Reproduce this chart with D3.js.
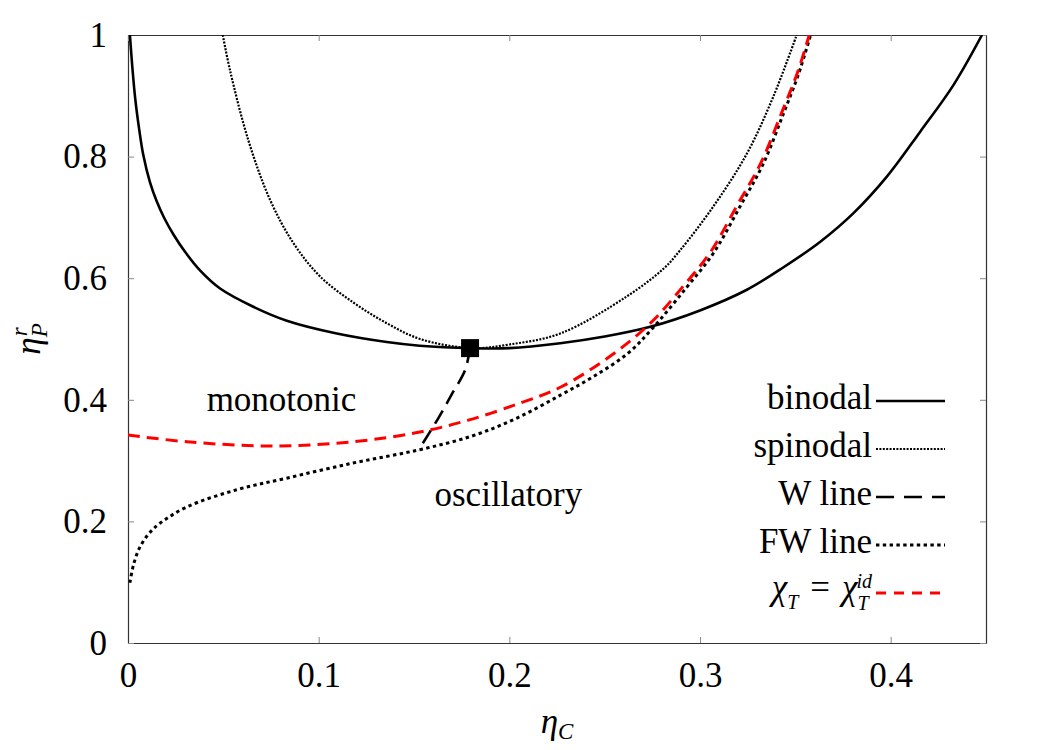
<!DOCTYPE html>
<html>
<head>
<meta charset="utf-8">
<script src="https://cdn.jsdelivr.net/npm/d3@7"></script>
<style>
  body { margin: 0; background: #fff; }
  text { font-family: "Liberation Serif", "DejaVu Serif", serif; fill: #000; }
</style>
</head>
<body>
<div id="chart"></div>
<script>

// curves: [eta_C, eta_P^r]
var binodal = [[0.0010,1.000],[0.0022,0.950],[0.0038,0.895],[0.0060,0.842],[0.0080,0.803],[0.0115,0.758],
  [0.0150,0.727],[0.0190,0.699],[0.0240,0.671],[0.0300,0.643],[0.0380,0.612],[0.0483,0.583],[0.0657,0.553],
  [0.0833,0.530],[0.1095,0.509],[0.1357,0.495],[0.1530,0.489],[0.1800,0.485],[0.2000,0.485],[0.2267,0.493],
  [0.2500,0.504],[0.2739,0.520],[0.3000,0.547],[0.3246,0.581],[0.3438,0.618],[0.3631,0.660],[0.3805,0.707],
  [0.3980,0.767],[0.4155,0.841],[0.4330,0.918],[0.4479,1.000]];

var spinodal = [[0.0497,1.000],[0.0535,0.942],[0.0631,0.827],[0.0745,0.729],[0.0867,0.658],[0.1007,0.603],
  [0.1182,0.560],[0.1357,0.526],[0.1532,0.500],[0.1800,0.485],[0.2000,0.491],[0.2267,0.509],[0.2616,0.570],
  [0.2810,0.616],[0.2896,0.646],[0.3070,0.718],[0.3246,0.805],[0.3385,0.899],[0.3507,1.000]];

var wLine = [[0.1794,0.485],[0.1768,0.449],[0.1700,0.410],[0.1628,0.370],[0.1523,0.317]];

var fwLine = [[0.0010,0.099],[0.0030,0.130],[0.0063,0.158],[0.0110,0.180],[0.0168,0.197],[0.0310,0.224],
  [0.0570,0.252],[0.0830,0.271],[0.1180,0.296],[0.1516,0.317],[0.1800,0.340],[0.2040,0.370],[0.2270,0.408],
  [0.2440,0.438],[0.2620,0.476],[0.2755,0.519],[0.2930,0.585],[0.3070,0.641],[0.3210,0.718],[0.3333,0.789],
  [0.3438,0.871],[0.3517,0.936],[0.3580,1.000]];

var chiIdeal = [[0.0000,0.342],[0.0310,0.331],[0.0745,0.324],[0.1180,0.331],[0.1530,0.347],[0.1790,0.367],
  [0.2060,0.395],[0.2270,0.421],[0.2530,0.472],[0.2740,0.526],[0.2915,0.588],[0.3055,0.643],[0.3195,0.720],
  [0.3320,0.790],[0.3428,0.872],[0.3510,0.937],[0.3573,1.000]];

var criticalPoint = [[0.1794, 0.485]];

var xTicks = [0, 0.1, 0.2, 0.3, 0.4];
var yTicks = [0, 0.2, 0.4, 0.6, 0.8, 1];
var legendLabels = ["binodal", "spinodal", "W line", "FW line", "chi"];

// svg size and margins
var svgWidth = 1050;
var svgHeight = 750;
var margin = { top: 35, right: 64, bottom: 107, left: 128 };
var chartWidth = svgWidth - margin.left - margin.right;
var chartHeight = svgHeight - margin.top - margin.bottom;
var fontSize = 35;
var subSize = 23;

var svg = d3.select("#chart")
  .append("svg")
  .attr("width", svgWidth)
  .attr("height", svgHeight);

var chartGroup = svg.append("g")
  .attr("transform", `translate(${margin.left}, ${margin.top})`);

var xScale = d3.scaleLinear().domain([0, 0.45]).range([0, chartWidth]);
var yScale = d3.scaleLinear().domain([0, 1]).range([chartHeight, 0]);

// axes, ticks pointing inwards
var fmt = d => String(d);
var bottomAxis = chartGroup.append("g")
  .attr("transform", `translate(0, ${chartHeight})`)
  .call(d3.axisBottom(xScale).tickValues(xTicks).tickSize(-6).tickSizeOuter(0).tickPadding(19).tickFormat(fmt));
var leftAxis = chartGroup.append("g")
  .call(d3.axisLeft(yScale).tickValues(yTicks).tickSize(-6).tickSizeOuter(0).tickPadding(21).tickFormat(fmt));
var topAxis = chartGroup.append("g")
  .call(d3.axisTop(xScale).tickValues(xTicks).tickSize(-6).tickSizeOuter(0).tickFormat(""));
var rightAxis = chartGroup.append("g")
  .attr("transform", `translate(${chartWidth}, 0)`)
  .call(d3.axisRight(yScale).tickValues(yTicks).tickSize(-6).tickSizeOuter(0).tickFormat(""));

[bottomAxis, leftAxis, topAxis, rightAxis].forEach(function(ax) {
  ax.select(".domain").attr("stroke", "#333").attr("stroke-width", 1.2);
  ax.selectAll(".tick line").attr("stroke", "#888").attr("stroke-width", 1);
  ax.selectAll(".tick text")
    .attr("font-family", "Liberation Serif, serif")
    .attr("font-size", fontSize)
    .attr("fill", "#000");
});

// clip the curves to the frame
chartGroup.append("clipPath").attr("id", "plotClip")
  .append("rect").attr("width", chartWidth).attr("height", chartHeight);

var lineGen = d3.line()
  .x(d => xScale(d[0]))
  .y(d => yScale(d[1]))
  .curve(d3.curveCatmullRom.alpha(0.5));

var curves = chartGroup.append("g").attr("clip-path", "url(#plotClip)");

function drawCurve(data, color, width, dash) {
  curves.append("path")
    .datum(data)
    .attr("d", lineGen)
    .attr("fill", "none")
    .attr("stroke", color)
    .attr("stroke-width", width)
    .attr("stroke-dasharray", dash);
}

drawCurve(binodal, "#000", 2.6, null);
drawCurve(spinodal, "#000", 2.2, "2,1.4");
drawCurve(wLine, "#000", 2.6, "15,8");
drawCurve(fwLine, "#000", 3, "3.4,3.4");
drawCurve(chiIdeal, "#ff0000", 3, "12,7");

// critical point
chartGroup.selectAll(".crit")
  .data(criticalPoint)
  .enter()
  .append("rect")
  .attr("class", "crit")
  .attr("x", d => xScale(d[0]) - 9)
  .attr("y", d => yScale(d[1]) - 9)
  .attr("width", 18)
  .attr("height", 18)
  .attr("fill", "#000");

// region labels
chartGroup.append("text")
  .attr("x", xScale(0.0805))
  .attr("y", yScale(0.382))
  .attr("text-anchor", "middle")
  .attr("font-size", fontSize)
  .text("monotonic");

chartGroup.append("text")
  .attr("x", xScale(0.1995))
  .attr("y", yScale(0.225))
  .attr("text-anchor", "middle")
  .attr("font-size", fontSize)
  .text("oscillatory");

// legend
var legendStyles = [
  { color: "#000", width: 2.6, dash: null },
  { color: "#000", width: 2.2, dash: "2,1.4" },
  { color: "#000", width: 2.6, dash: "18,10" },
  { color: "#000", width: 3, dash: "3.4,3.4" },
  { color: "#ff0000", width: 3, dash: "10,8" }
];
var legendX = 876 - margin.left;
var legendY0 = 401 - margin.top;
var legend = chartGroup.append("g");
legendLabels.forEach(function(label, i) {
  var ly = legendY0 + i * 48;
  legend.append("line")
    .attr("x1", legendX).attr("x2", legendX + 69)
    .attr("y1", ly).attr("y2", ly)
    .attr("stroke", legendStyles[i].color)
    .attr("stroke-width", legendStyles[i].width)
    .attr("stroke-dasharray", legendStyles[i].dash);
  if (label !== "chi") {
    legend.append("text")
      .attr("x", legendX - 4)
      .attr("y", ly + 8)
      .attr("text-anchor", "end")
      .attr("font-size", fontSize)
      .text(label);
  } else {
    // chi_T = chi_T^id, with the id / T scripts stacked
    var t = legend.append("text")
      .attr("x", legendX - 4)
      .attr("y", ly + 6)
      .attr("text-anchor", "end")
      .attr("font-size", fontSize);
    t.append("tspan").attr("font-style", "italic").text("χ");
    t.append("tspan").attr("font-style", "italic").attr("font-size", 20).attr("dy", 10).text("T");
    t.append("tspan").attr("dy", -10).attr("dx", 12).text("=");
    t.append("tspan").attr("font-style", "italic").attr("dx", 12).text("χ");
    t.append("tspan").attr("font-style", "italic").attr("font-size", 20).attr("dy", 11).text("T");
    t.append("tspan").attr("font-style", "italic").attr("font-size", 20).attr("dx", -11).attr("dy", -22).text("id");
  }
});

// x axis label
var xLabel = svg.append("text")
  .attr("x", margin.left + chartWidth / 2)
  .attr("y", 733)
  .attr("text-anchor", "middle")
  .attr("font-size", fontSize);
xLabel.append("tspan").attr("font-style", "italic").text("η");
xLabel.append("tspan").attr("font-style", "italic").attr("font-size", subSize).attr("dy", 6).text("C");

// y axis label
var yLabel = svg.append("text")
  .attr("transform", `translate(40, ${margin.top + chartHeight / 2}) rotate(-90)`)
  .attr("text-anchor", "middle")
  .attr("font-size", fontSize);
yLabel.append("tspan").attr("font-style", "italic").text("η");
yLabel.append("tspan").attr("font-style", "italic").attr("font-size", subSize).attr("dy", 7).text("P");
yLabel.append("tspan").attr("font-style", "italic").attr("font-size", subSize).attr("dx", -13).attr("dy", -20).text("r");

</script>
</body>
</html>
